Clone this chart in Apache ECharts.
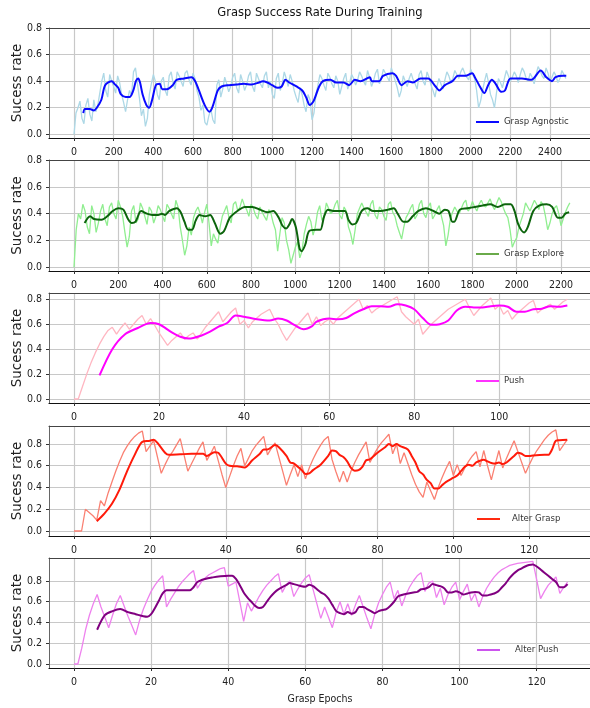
<!DOCTYPE html>
<html>
<head>
<meta charset="utf-8">
<script src="https://cdn.jsdelivr.net/npm/echarts@6/dist/echarts.min.js"></script>
<style>
html,body{margin:0;padding:0;background:#fff;overflow:hidden;}
#chart{width:590px;height:708px;}
</style>
</head>
<body>
<div id="chart"></div>
<script>
// ---------------- text ----------------
const chartTitle = 'Grasp Success Rate During Training';
const yAxisTitle = 'Sucess rate';
const xAxisTitle = 'Grasp Epochs';
const seriesNames = ['Grasp Agnostic', 'Grasp Explore', 'Push', 'Alter Grasp', 'Alter Push'];

// ---------------- tick labels ----------------
const xTicksAgnostic = [0,200,400,600,800,1000,1200,1400,1600,1800,2000,2200,2400];
const xTicksExplore  = [0,200,400,600,800,1000,1200,1400,1600,1800,2000,2200];
const xTicksPush     = [0,20,40,60,80,100];
const xTicksAlter    = [0,20,40,60,80,100,120];
const yTicks         = [0,0.2,0.4,0.6,0.8];

// ---------------- data ----------------
// raw success rate, one value every 10 epochs (panels 1-2)
const rawStep = 10;
const agnosticRaw = [
 0.00,0.16,0.20,0.25,0.12,0.08,0.22,0.27,0.15,0.10,
 0.26,0.17,0.22,0.31,0.40,0.46,0.33,0.28,0.45,0.40,
 0.36,0.31,0.44,0.39,0.30,0.24,0.17,0.26,0.33,0.29,
 0.47,0.50,0.38,0.27,0.14,0.19,0.06,0.12,0.30,0.38,
 0.45,0.40,0.30,0.26,0.40,0.43,0.33,0.29,0.44,0.47,
 0.38,0.34,0.47,0.44,0.40,0.36,0.46,0.48,0.41,0.37,
 0.46,0.42,0.33,0.28,0.18,0.22,0.09,0.07,0.14,0.19,
 0.11,0.08,0.37,0.41,0.28,0.34,0.43,0.38,0.32,0.36,
 0.43,0.46,0.35,0.31,0.45,0.40,0.33,0.37,0.44,0.47,
 0.36,0.32,0.46,0.42,0.38,0.35,0.44,0.47,0.35,0.40,
 0.30,0.27,0.42,0.46,0.33,0.38,0.47,0.42,0.36,0.45,
 0.40,0.33,0.28,0.24,0.35,0.30,0.22,0.17,0.30,0.26,
 0.11,0.16,0.30,0.37,0.45,0.42,0.37,0.33,0.46,0.43,
 0.38,0.35,0.44,0.40,0.30,0.36,0.42,0.46,0.34,0.39,
 0.45,0.42,0.37,0.41,0.47,0.44,0.40,0.37,0.48,0.43,
 0.36,0.40,0.46,0.49,0.38,0.42,0.49,0.46,0.43,0.40,
 0.50,0.45,0.40,0.35,0.28,0.33,0.44,0.40,0.36,0.42,
 0.46,0.41,0.38,0.34,0.45,0.48,0.40,0.37,0.47,0.43,
 0.37,0.33,0.28,0.36,0.42,0.38,0.34,0.41,0.47,0.44,
 0.39,0.42,0.48,0.45,0.42,0.47,0.50,0.46,0.43,0.41,
 0.49,0.45,0.42,0.33,0.20,0.25,0.33,0.40,0.46,0.39,
 0.30,0.26,0.20,0.31,0.42,0.39,0.35,0.42,0.48,0.44,
 0.40,0.43,0.47,0.44,0.39,0.45,0.50,0.47,0.42,0.40,
 0.46,0.43,0.38,0.45,0.51,0.48,0.44,0.42,0.50,0.46,
 0.40,0.43,0.47,0.44,0.39,0.42,0.48,0.45,0.42];
const agnosticSmooth = [[47,0.16],[55,0.19],[80,0.19],[100,0.18],[115,0.20],[138,0.26],[157,0.37],[191,0.40],[204,0.38],[223,0.35],[237,0.30],[261,0.28],[280,0.28],[299,0.33],[312,0.40],[324,0.42],[333,0.39],[346,0.30],[365,0.22],[379,0.20],[394,0.26],[413,0.37],[432,0.38],[445,0.34],[469,0.34],[498,0.37],[517,0.41],[555,0.42],[592,0.43],[611,0.40],[630,0.33],[659,0.22],[683,0.17],[697,0.20],[725,0.33],[744,0.36],[782,0.37],[820,0.375],[857,0.38],[895,0.375],[933,0.39],[952,0.40],[975,0.39],[999,0.37],[1028,0.35],[1047,0.36],[1066,0.41],[1085,0.39],[1122,0.36],[1151,0.33],[1170,0.28],[1189,0.22],[1208,0.25],[1236,0.36],[1255,0.40],[1293,0.41],[1321,0.39],[1359,0.39],[1387,0.37],[1416,0.41],[1444,0.40],[1492,0.43],[1501,0.40],[1539,0.40],[1558,0.44],[1605,0.46],[1624,0.44],[1652,0.37],[1681,0.40],[1709,0.39],[1747,0.42],[1785,0.42],[1823,0.36],[1842,0.33],[1870,0.37],[1908,0.40],[1936,0.44],[1974,0.44],[2008,0.46],[2021,0.43],[2050,0.35],[2069,0.31],[2088,0.37],[2107,0.41],[2126,0.38],[2154,0.32],[2173,0.33],[2201,0.42],[2258,0.42],[2306,0.41],[2353,0.48],[2381,0.43],[2410,0.40],[2428,0.43],[2466,0.44],[2482,0.44]];

const exploreRaw = [
 0.00,0.28,0.40,0.36,0.47,0.42,0.30,0.25,0.46,0.40,
 0.26,0.33,0.42,0.47,0.36,0.31,0.45,0.48,0.40,0.36,
 0.50,0.45,0.38,0.26,0.15,0.23,0.42,0.46,0.33,0.36,
 0.48,0.44,0.38,0.32,0.45,0.42,0.33,0.38,0.46,0.43,
 0.38,0.34,0.47,0.44,0.40,0.36,0.50,0.45,0.30,0.20,
 0.09,0.16,0.30,0.24,0.37,0.42,0.45,0.40,0.33,0.41,
 0.47,0.33,0.16,0.25,0.21,0.18,0.30,0.38,0.42,0.46,
 0.37,0.33,0.47,0.49,0.42,0.45,0.51,0.46,0.43,0.38,
 0.47,0.44,0.39,0.36,0.45,0.41,0.38,0.35,0.43,0.40,
 0.33,0.28,0.12,0.25,0.37,0.33,0.20,0.13,0.03,0.09,
 0.15,0.19,0.07,0.12,0.25,0.32,0.38,0.34,0.24,0.30,
 0.41,0.46,0.35,0.38,0.48,0.44,0.40,0.42,0.47,0.50,
 0.39,0.36,0.45,0.42,0.30,0.25,0.17,0.28,0.40,0.44,
 0.48,0.44,0.41,0.38,0.47,0.50,0.39,0.36,0.45,0.43,
 0.38,0.35,0.47,0.49,0.41,0.38,0.31,0.26,0.21,0.30,
 0.37,0.40,0.44,0.47,0.36,0.39,0.47,0.50,0.40,0.37,
 0.45,0.48,0.36,0.39,0.43,0.46,0.38,0.31,0.16,0.24,
 0.36,0.41,0.45,0.42,0.40,0.44,0.48,0.50,0.42,0.44,
 0.49,0.45,0.42,0.47,0.50,0.46,0.45,0.48,0.51,0.46,
 0.43,0.48,0.52,0.49,0.44,0.40,0.37,0.28,0.15,0.19,
 0.22,0.30,0.35,0.40,0.48,0.45,0.42,0.46,0.50,0.47,
 0.43,0.49,0.46,0.38,0.28,0.33,0.40,0.44,0.46,0.40,
 0.31,0.36,0.41,0.45,0.48];
const exploreSmooth = [[48,0.33],[73,0.38],[90,0.36],[124,0.355],[150,0.38],[175,0.42],[201,0.44],[223,0.43],[244,0.36],[261,0.33],[278,0.34],[303,0.42],[329,0.40],[354,0.39],[380,0.39],[397,0.40],[411,0.39],[431,0.42],[465,0.44],[482,0.41],[499,0.34],[516,0.28],[533,0.28],[550,0.35],[567,0.39],[593,0.38],[615,0.39],[636,0.33],[661,0.25],[678,0.27],[704,0.37],[738,0.42],[772,0.45],[806,0.45],[840,0.43],[874,0.41],[900,0.42],[925,0.37],[942,0.31],[959,0.29],[973,0.32],[985,0.36],[1002,0.30],[1019,0.14],[1028,0.12],[1045,0.17],[1062,0.27],[1096,0.28],[1113,0.28],[1130,0.38],[1147,0.43],[1172,0.42],[1223,0.42],[1241,0.35],[1257,0.32],[1275,0.33],[1300,0.42],[1325,0.44],[1351,0.42],[1385,0.42],[1420,0.43],[1445,0.44],[1462,0.40],[1488,0.34],[1505,0.34],[1530,0.38],[1556,0.42],[1590,0.44],[1624,0.42],[1650,0.40],[1675,0.43],[1692,0.42],[1709,0.34],[1718,0.34],[1743,0.43],[1777,0.44],[1811,0.45],[1846,0.46],[1880,0.47],[1914,0.45],[1948,0.47],[1973,0.47],[1990,0.42],[2007,0.32],[2033,0.26],[2050,0.30],[2075,0.42],[2101,0.46],[2135,0.47],[2160,0.45],[2186,0.37],[2203,0.37],[2220,0.40],[2237,0.41]];

// raw success rate, one value per epoch (panels 3-5)
const pushRaw = [0.00,0.00,0.10,0.20,0.29,0.37,0.44,0.50,0.55,0.575,
 0.52,0.57,0.61,0.56,0.60,0.64,0.67,0.60,0.645,0.59,
 0.53,0.48,0.43,0.47,0.50,0.53,0.48,0.51,0.53,0.48,
 0.53,0.58,0.62,0.66,0.70,0.62,0.66,0.70,0.73,0.60,
 0.63,0.57,0.62,0.65,0.68,0.70,0.72,0.65,0.60,0.53,
 0.47,0.52,0.57,0.61,0.65,0.69,0.60,0.66,0.59,0.62,
 0.64,0.60,0.65,0.68,0.71,0.74,0.77,0.80,0.72,0.75,
 0.69,0.72,0.74,0.76,0.78,0.80,0.82,0.70,0.66,0.63,
 0.60,0.64,0.52,0.56,0.60,0.63,0.66,0.69,0.72,0.74,
 0.76,0.78,0.80,0.73,0.67,0.71,0.75,0.78,0.81,0.72,
 0.75,0.68,0.71,0.64,0.68,0.71,0.74,0.77,0.79,0.69,
 0.72,0.74,0.76,0.72,0.75,0.78,0.80];
const pushSmooth = [[6,0.19],[9,0.40],[12,0.52],[15,0.57],[18,0.61],[20,0.60],[23,0.535],[25,0.50],[27,0.485],[30,0.51],[32,0.54],[34,0.58],[36,0.61],[38,0.67],[40,0.66],[43,0.64],[46,0.63],[48,0.645],[50,0.63],[52,0.59],[54,0.56],[56,0.585],[57,0.62],[60,0.645],[62,0.64],[64,0.65],[66,0.69],[68,0.72],[70,0.745],[72,0.745],[74,0.74],[76,0.76],[78,0.75],[80,0.72],[82,0.65],[84,0.595],[86,0.60],[88,0.63],[90,0.71],[92,0.74],[94,0.735],[96,0.735],[98,0.745],[100,0.75],[102,0.74],[104,0.70],[106,0.70],[108,0.72],[110,0.725],[112,0.745],[114,0.74],[116,0.75]];

const alterGraspRaw = [0.00,0.00,0.00,0.20,0.17,0.14,0.10,0.28,0.23,0.35,
 0.45,0.55,0.64,0.72,0.78,0.83,0.87,0.90,0.92,0.73,
 0.78,0.83,0.68,0.53,0.61,0.68,0.73,0.79,0.85,0.70,
 0.55,0.62,0.69,0.76,0.82,0.65,0.71,0.78,0.65,0.52,
 0.40,0.50,0.60,0.69,0.76,0.60,0.67,0.74,0.79,0.83,
 0.87,0.70,0.76,0.81,0.68,0.55,0.42,0.52,0.61,0.50,
 0.61,0.48,0.58,0.66,0.73,0.79,0.84,0.87,0.66,0.55,
 0.45,0.55,0.45,0.55,0.63,0.70,0.76,0.82,0.63,0.70,
 0.76,0.81,0.85,0.89,0.71,0.80,0.62,0.72,0.62,0.52,
 0.43,0.36,0.31,0.45,0.37,0.29,0.40,0.49,0.57,0.64,
 0.51,0.61,0.51,0.58,0.64,0.69,0.73,0.59,0.74,0.60,
 0.47,0.61,0.74,0.58,0.67,0.75,0.83,0.73,0.63,0.53,
 0.61,0.68,0.74,0.79,0.84,0.88,0.91,0.93,0.74,0.79,
 0.84];
const alterGraspSmooth = [[6,0.09],[8,0.16],[10,0.25],[12,0.38],[14,0.55],[16,0.70],[18,0.82],[20,0.83],[21,0.84],[22,0.81],[24,0.72],[25,0.70],[28,0.705],[31,0.71],[34,0.71],[35,0.69],[37,0.725],[38,0.72],[40,0.62],[41,0.60],[43,0.595],[45,0.585],[47,0.65],[49,0.71],[50,0.75],[51,0.75],[53,0.79],[54,0.77],[56,0.69],[57,0.63],[58,0.62],[60,0.56],[61,0.525],[62,0.53],[63,0.56],[65,0.61],[67,0.69],[68,0.74],[69,0.735],[70,0.70],[71,0.68],[72,0.64],[73,0.58],[74,0.555],[75,0.56],[76,0.59],[77,0.65],[78,0.66],[80,0.72],[82,0.77],[83,0.80],[84,0.78],[85,0.80],[86,0.78],[88,0.75],[89,0.69],[90,0.63],[91,0.55],[92,0.52],[93,0.47],[94,0.44],[95,0.39],[96,0.39],[97,0.42],[98,0.45],[100,0.49],[101,0.51],[102,0.55],[103,0.59],[104,0.61],[105,0.60],[106,0.63],[108,0.655],[109,0.64],[110,0.625],[111,0.62],[112,0.63],[113,0.615],[114,0.63],[116,0.69],[117,0.72],[118,0.71],[119,0.69],[120,0.69],[121,0.695],[124,0.70],[125,0.70],[126,0.75],[127,0.83],[128,0.835],[130,0.84]];

const alterPushRaw = [0.00,0.00,0.15,0.33,0.47,0.58,0.67,0.55,0.45,0.35,
 0.47,0.58,0.66,0.56,0.46,0.37,0.28,0.42,0.53,0.62,
 0.70,0.76,0.81,0.85,0.55,0.62,0.68,0.74,0.79,0.83,
 0.87,0.90,0.73,0.79,0.83,0.86,0.88,0.90,0.92,0.93,
 0.75,0.77,0.79,0.60,0.41,0.59,0.51,0.58,0.65,0.71,
 0.76,0.80,0.84,0.87,0.69,0.76,0.80,0.65,0.72,0.78,
 0.83,0.86,0.72,0.58,0.44,0.55,0.45,0.35,0.50,0.60,
 0.48,0.58,0.47,0.57,0.66,0.55,0.44,0.34,0.48,0.59,
 0.67,0.74,0.79,0.63,0.71,0.56,0.66,0.74,0.80,0.85,
 0.88,0.70,0.78,0.80,0.64,0.73,0.57,0.67,0.74,0.79,
 0.62,0.70,0.77,0.61,0.68,0.55,0.65,0.73,0.79,0.84,
 0.88,0.91,0.93,0.95,0.96,0.97,0.975,0.98,0.985,0.99,
 0.81,0.63,0.70,0.76,0.80,0.84,0.68,0.74,0.79];
const alterPushSmooth = [[6,0.33],[8,0.47],[10,0.51],[12,0.53],[14,0.50],[16,0.48],[18,0.46],[19,0.455],[20,0.48],[21,0.54],[22,0.61],[23,0.68],[24,0.71],[26,0.71],[28,0.71],[30,0.71],[31,0.74],[32,0.79],[34,0.82],[36,0.835],[38,0.845],[40,0.85],[41,0.85],[42,0.82],[43,0.76],[44,0.69],[45,0.64],[46,0.60],[47,0.56],[48,0.54],[49,0.55],[50,0.60],[51,0.65],[52,0.69],[53,0.72],[55,0.76],[56,0.78],[57,0.77],[58,0.76],[59,0.75],[60,0.745],[61,0.765],[62,0.75],[63,0.72],[64,0.69],[65,0.67],[66,0.63],[67,0.57],[68,0.51],[69,0.49],[70,0.48],[71,0.50],[72,0.485],[73,0.50],[74,0.55],[75,0.55],[76,0.53],[77,0.51],[78,0.49],[79,0.51],[80,0.52],[81,0.53],[82,0.56],[83,0.60],[84,0.65],[85,0.665],[86,0.675],[88,0.69],[89,0.695],[90,0.72],[91,0.725],[92,0.74],[93,0.77],[94,0.76],[95,0.75],[96,0.73],[97,0.69],[98,0.69],[99,0.70],[100,0.69],[101,0.67],[102,0.68],[103,0.69],[104,0.695],[105,0.69],[106,0.66],[107,0.66],[108,0.67],[109,0.68],[110,0.70],[111,0.74],[112,0.78],[113,0.83],[114,0.87],[115,0.90],[116,0.92],[117,0.94],[118,0.955],[119,0.96],[120,0.94],[121,0.91],[122,0.88],[123,0.85],[124,0.82],[125,0.79],[126,0.74],[127,0.74],[128,0.77]];

// ---------------- build ----------------
const narrow = "'DejaVu Sans Condensed','DejaVu Sans',sans-serif";
const toPairs = (vals, step) => vals.map((v, i) => [i * step, v]);

const panels = [
  {raw: toPairs(agnosticRaw, rawStep), smooth: agnosticSmooth, xTicks: xTicksAgnostic,
   rawColor: '#add8e6', color: '#0a0aff', legendColor: '#0a0aff',
   grid: {top: 28, height: 110}, x: [-126.05, 2606.7], y: [-0.0277, 0.8], legend: {left: 476, top: 117, pad: 0}},
  {raw: toPairs(exploreRaw, rawStep), smooth: exploreSmooth, xTicks: xTicksExplore,
   rawColor: '#90ee90', color: '#0c640c', legendColor: '#6aaa4a',
   grid: {top: 160, height: 111}, x: [-112.94, 2335.6], y: [-0.0276, 0.8], legend: {left: 476, top: 249, pad: 0}},
  {raw: toPairs(pushRaw, 1), smooth: pushSmooth, xTicks: xTicksPush,
   rawColor: '#ffb6c1', color: '#ff00ff', legendColor: '#ff33ff',
   grid: {top: 293, height: 110}, x: [-5.878, 121.56], y: [-0.032, 0.8506], legend: {left: 476, top: 376, pad: 0}},
  {raw: toPairs(alterGraspRaw, 1), smooth: alterGraspSmooth, xTicks: xTicksAlter,
   rawColor: '#fa8072', color: '#ff1a0a', legendColor: '#ff2a10',
   grid: {top: 426, height: 110}, x: [-6.589, 136.27], y: [-0.046, 0.9655], legend: {left: 477, top: 514, pad: 7}},
  {raw: toPairs(alterPushRaw, 1), smooth: alterPushSmooth, xTicks: xTicksAlter,
   rawColor: '#ee82ee', color: '#800080', legendColor: '#cc55ee',
   grid: {top: 558, height: 110}, x: [-6.483, 134.08], y: [-0.0386, 1.0217], legend: {left: 477, top: 645, pad: 10}}
];

const grid = [], xAxis = [], yAxis = [], series = [], legend = [];
const topSpines = [];
panels.forEach((p, i) => {
  grid.push({left: 49, width: 542, top: p.grid.top, height: p.grid.height,
             containLabel: false, outerBoundsMode: 'none'});
  xAxis.push({
    type: 'value', gridIndex: i, min: p.x[0], max: p.x[1], position: 'bottom',
    name: i === 4 ? xAxisTitle : '', nameLocation: 'middle', nameGap: 26, nameMoveOverlap: false,
    nameTextStyle: {fontFamily: narrow, fontSize: 10.5, color: '#222'},
    axisLine: {show: true, onZero: false, lineStyle: {color: '#111', width: 1.2}},
    axisTick: {show: true, length: 3, customValues: p.xTicks, lineStyle: {color: '#333'}},
    axisLabel: {show: true, customValues: p.xTicks, margin: 9, fontFamily: narrow, fontSize: 10.5, color: '#222',
      formatter: v => String(Math.round(v))},
    splitLine: {show: true, lineStyle: {color: '#c8c8c8', width: 1.2}}
  });
  topSpines.push({
    type: 'value', gridIndex: i, min: p.x[0], max: p.x[1], position: 'top', z: 5,
    axisLine: {show: true, onZero: false, lineStyle: {color: '#444', width: 1}},
    axisTick: {show: false}, axisLabel: {show: false}, splitLine: {show: false}
  });
  yAxis.push({
    type: 'value', gridIndex: i, min: p.y[0], max: p.y[1],
    name: yAxisTitle, nameLocation: 'middle', nameGap: 25, nameRotate: 90, nameMoveOverlap: false,
    nameTextStyle: {fontFamily: "'DejaVu Sans',sans-serif", fontSize: 13.5, color: '#222'},
    axisLine: {show: true, onZero: false, lineStyle: {color: '#666', width: 1}},
    axisTick: {show: true, length: 3, customValues: yTicks, lineStyle: {color: '#333'}},
    axisLabel: {show: true, customValues: yTicks, margin: 7, fontFamily: narrow, fontSize: 10.5, color: '#222',
      formatter: v => Number(v).toFixed(1)},
    splitLine: {show: true, lineStyle: {color: '#c8c8c8', width: 1.2}}
  });
  series.push({
    type: 'line', name: seriesNames[i] + ' (raw)', xAxisIndex: i, yAxisIndex: i,
    data: p.raw, symbol: 'none', showSymbol: false, silent: true, z: 2,
    lineStyle: {color: p.rawColor, width: 1.3}, itemStyle: {color: p.rawColor}
  });
  series.push({
    type: 'line', name: seriesNames[i], xAxisIndex: i, yAxisIndex: i,
    data: p.smooth, symbol: 'none', showSymbol: false, silent: true, smooth: 0.3, z: 3,
    lineStyle: {color: p.color, width: 2}, itemStyle: {color: p.color}
  });
  legend.push({
    left: p.legend.left, top: p.legend.top, padding: 0, orient: 'horizontal',
    icon: 'rect', itemWidth: 23, itemHeight: 2, selectedMode: false,
    textStyle: {fontFamily: narrow, fontSize: 9.5, color: '#333', padding: [0, 0, 0, p.legend.pad]},
    data: [{name: seriesNames[i], itemStyle: {color: p.legendColor}}]
  });
});

const option = {
  animation: false,
  backgroundColor: '#ffffff',
  title: {
    text: chartTitle, left: 320, top: 6, padding: 0, textAlign: 'center',
    textStyle: {fontFamily: narrow, fontSize: 12.8, fontWeight: 'normal', color: '#111'}
  },
  grid: grid,
  xAxis: xAxis.concat(topSpines),
  yAxis: yAxis,
  legend: legend,
  series: series
};

const chart = echarts.init(document.getElementById('chart'), null, {renderer: 'canvas'});
chart.setOption(option);
</script>
</body>
</html>
